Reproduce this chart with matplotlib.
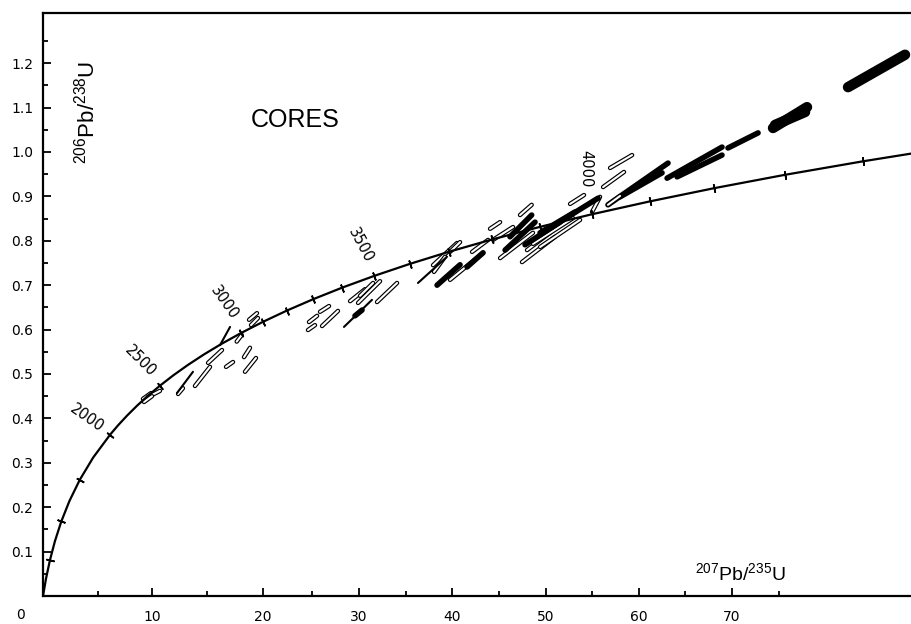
import numpy as np
import matplotlib.pyplot as plt
import matplotlib.patheffects as pe

plt.rcParams['font.family'] = ['Liberation Sans', 'DejaVu Sans']
plt.rcParams['mathtext.fontset'] = 'custom'
plt.rcParams['mathtext.rm'] = 'Liberation Sans'
plt.rcParams['mathtext.it'] = 'Liberation Sans'

# Concordia curve (age in Ma, 207Pb/235U, 206Pb/238U)
con_age = [0, 250, 500, 750, 1000, 1250, 1500, 1750, 2000, 2100, 2200, 2300,
           2400, 2500, 2600, 2700, 2800, 2900, 3000, 3100, 3200, 3300, 3400,
           3500, 3600, 3700, 3800, 3900, 4000, 4100, 4200, 4300, 4400, 4500]
con_x = [0, 0.279, 0.636, 1.093, 1.677, 2.425, 3.381, 4.604, 6.168, 6.911,
         7.729, 8.633, 9.630, 10.730, 11.944, 13.283, 14.762, 16.393,
         18.193, 20.180, 22.371, 24.791, 27.460, 30.406, 33.656, 37.242,
         41.201, 45.569, 50.388, 55.707, 61.575, 68.052, 75.199, 83.085]
con_y = [0, 0.0395, 0.0807, 0.1234, 0.1678, 0.2140, 0.2620, 0.3119, 0.3637,
         0.3851, 0.4067, 0.4287, 0.4511, 0.4737, 0.4968, 0.5202, 0.5440,
         0.5681, 0.5926, 0.6175, 0.6428, 0.6685, 0.6946, 0.7211, 0.7480,
         0.7753, 0.8030, 0.8312, 0.8599, 0.8889, 0.9185, 0.9485, 0.9789,
         1.0099]
tick_ages = [500, 1000, 1500, 2000, 2500, 3000, 3100, 3200, 3300, 3400, 3500,
             3600, 3700, 3800, 3900, 4000, 4100, 4200, 4300, 4400, 4500]
age_labels = [2000, 2500, 3000, 3500, 4000]

# error ellipses as (x1, y1, x2, y2) end points of the long axis
open_ell = [
    (9.17, 0.444, 9.91, 0.457), (9.63, 0.448, 10.73, 0.462),
    (9.27, 0.437, 10.00, 0.450), (12.39, 0.455, 12.84, 0.468),
    (13.94, 0.473, 15.32, 0.516), (15.14, 0.525, 16.42, 0.554),
    (17.77, 0.573, 18.23, 0.588), (16.79, 0.516, 17.43, 0.527),
    (18.44, 0.538, 18.99, 0.559), (18.53, 0.505, 19.54, 0.536),
    (18.90, 0.622, 19.63, 0.637), (19.08, 0.610, 19.72, 0.626),
    (24.31, 0.599, 24.95, 0.610), (24.40, 0.617, 25.14, 0.631),
    (25.41, 0.640, 26.24, 0.653), (25.60, 0.608, 27.06, 0.642),
    (28.17, 0.664, 29.54, 0.691), (28.90, 0.660, 30.92, 0.709),
    (29.08, 0.676, 30.28, 0.705), (30.64, 0.662, 32.48, 0.705),
    (35.78, 0.745, 37.98, 0.795), (35.87, 0.730, 36.88, 0.764),
    (37.34, 0.775, 38.26, 0.797), (37.34, 0.712, 40.37, 0.773),
    (39.36, 0.775, 40.83, 0.802), (41.01, 0.827, 41.93, 0.842),
    (41.28, 0.802, 43.12, 0.831), (41.93, 0.761, 44.95, 0.818),
    (43.76, 0.858, 44.83, 0.881), (43.94, 0.752, 46.97, 0.809),
    (44.40, 0.779, 46.51, 0.818), (44.95, 0.793, 48.62, 0.851),
    (45.60, 0.786, 49.27, 0.847), (48.35, 0.883, 49.63, 0.903),
    (50.37, 0.865, 51.10, 0.899), (51.38, 0.921, 53.30, 0.955),
    (52.02, 0.964, 54.04, 0.993),
]
thin_ell = [
    (12.29, 0.457, 13.76, 0.505), (16.24, 0.565, 17.16, 0.606),
    (27.61, 0.606, 30.18, 0.667), (34.40, 0.705, 37.06, 0.764),
]
filled_ell = [
    (28.62, 0.631, 29.27, 0.644),
    (36.15, 0.700, 38.26, 0.746), (38.90, 0.741, 40.37, 0.773),
    (42.39, 0.779, 45.14, 0.842), (42.84, 0.809, 44.83, 0.858),
    (44.22, 0.791, 47.43, 0.842), (45.60, 0.818, 48.81, 0.865),
    (46.51, 0.829, 50.92, 0.896), (51.83, 0.881, 57.34, 0.975),
    (52.94, 0.899, 56.79, 0.953), (57.25, 0.941, 62.29, 1.011),
    (58.17, 0.944, 62.29, 0.993), (62.84, 1.009, 65.60, 1.043),
]
wide_ell = [
    (66.97, 1.054, 70.09, 1.101), (67.16, 1.061, 69.91, 1.090),
    (73.85, 1.146, 79.08, 1.219),
]
open_last = [(51.83, 0.881, 52.94, 0.901)]

xtick_labels = ['10', '20', '30', '40', '50', '60', '70']
xtick_at = [10.0, 20.2, 28.96, 37.5, 46.1, 54.7, 63.2]
xminor_at = [5.0, 15.0, 24.7, 33.3, 41.8, 50.4, 58.9, 67.5]
ytick_vals = [0.1, 0.2, 0.3, 0.4, 0.5, 0.6, 0.7, 0.8, 0.9, 1.0, 1.1, 1.2]

fig = plt.figure(figsize=(9.12, 6.24), dpi=100)
ax = fig.add_axes([43 / 912, 28 / 624, 869 / 912, 583 / 624])
ax.set_xlim(0, 79.72)
ax.set_ylim(0, 1.313)

# concordia
ax.plot(con_x, con_y, color='black', lw=1.6, zorder=3)
for a in tick_ages:
    i = con_age.index(a)
    j = min(i + 1, len(con_age) - 1)
    p0 = ax.transData.transform((con_x[i - 1], con_y[i - 1]))
    p1 = ax.transData.transform((con_x[j], con_y[j]))
    ang = np.degrees(np.arctan2(p1[1] - p0[1], p1[0] - p0[0]))
    ax.plot(con_x[i], con_y[i], marker=(2, 2, ang), ms=6, mew=1.2,
            color='black', zorder=3)

label_off = {2000: (-17, 12), 2500: (-14, 18), 3000: (-12, 22),
             3500: (-10, 22), 4000: (-5, 33)}
label_rot = {2000: -35, 2500: -45, 3000: -55, 3500: -62, 4000: -90}
for a in age_labels:
    i = con_age.index(a)
    ax.annotate(str(a), (con_x[i], con_y[i]), xytext=label_off[a],
                textcoords='offset points', ha='center', va='center',
                rotation=label_rot[a], fontsize=10.5, family='DejaVu Sans')

# data ellipses
stroke = [pe.withStroke(linewidth=3.2, foreground='black')]
for x1, y1, x2, y2 in open_ell:
    ax.plot([x1, x2], [y1, y2], color='white', lw=1.5,
            solid_capstyle='round', path_effects=stroke, zorder=2)
for x1, y1, x2, y2 in thin_ell:
    ax.plot([x1, x2], [y1, y2], color='black', lw=1.5,
            solid_capstyle='round', zorder=2)
for x1, y1, x2, y2 in filled_ell:
    ax.plot([x1, x2], [y1, y2], color='black', lw=4.0,
            solid_capstyle='round', zorder=2)
for x1, y1, x2, y2 in wide_ell:
    ax.plot([x1, x2], [y1, y2], color='black', lw=7.5,
            solid_capstyle='round', zorder=2)
for x1, y1, x2, y2 in open_last:
    ax.plot([x1, x2], [y1, y2], color='white', lw=1.5,
            solid_capstyle='round', path_effects=stroke, zorder=2.5)

# axes
ax.spines['right'].set_visible(False)
for s in ['left', 'bottom', 'top']:
    ax.spines[s].set_linewidth(1.6)
ax.set_xticks(xtick_at, labels=xtick_labels)
ax.set_xticks(xminor_at, minor=True)
ax.set_yticks(ytick_vals, labels=[f'{v:.1f}' for v in ytick_vals])
ax.set_yticks(np.arange(0.05, 1.3, 0.1), minor=True)
ax.tick_params(which='both', direction='in', width=1.3, labelsize=10)
ax.tick_params(which='major', length=6)
ax.tick_params(which='minor', length=3.5)
ax.tick_params(axis='x', pad=10)
ax.tick_params(axis='y', pad=7)
for lab in ax.get_xticklabels() + ax.get_yticklabels():
    lab.set_family('DejaVu Sans')
ax.text(-2.1, -0.028, '0', ha='center', va='top', fontsize=10,
        family='DejaVu Sans', clip_on=False)

ax.text(0.0506, 0.83, r'$^{206}$Pb/$^{238}$U', transform=ax.transAxes,
        rotation=90, ha='center', va='center', fontsize=16)
ax.text(0.802, 0.0395, r'$^{207}$Pb/$^{235}$U', transform=ax.transAxes,
        ha='center', va='center', fontsize=14)
ax.text(0.29, 0.8165, 'CORES', transform=ax.transAxes,
        ha='center', va='center', fontsize=18)

fig.savefig('out.png', dpi=100)
